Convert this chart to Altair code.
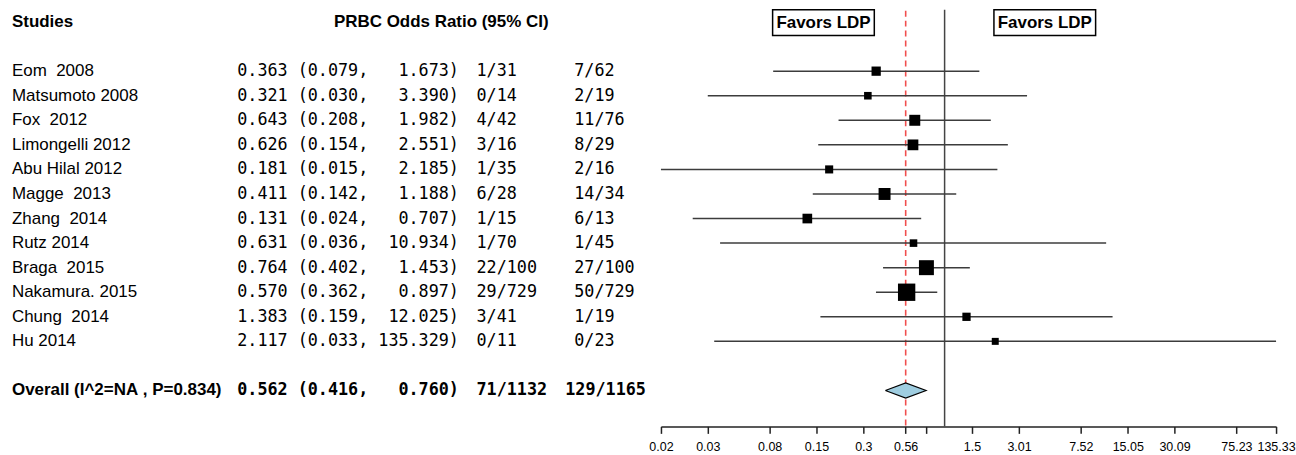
import altair as alt
import pandas as pd

# ---------------- data ----------------
studies = ["Eom  2008", "Matsumoto 2008", "Fox  2012", "Limongelli 2012", "Abu Hilal 2012",
           "Magge  2013", "Zhang  2014", "Rutz 2014", "Braga  2015", "Nakamura. 2015",
           "Chung  2014", "Hu 2014"]
odds_ratio = [0.363, 0.321, 0.643, 0.626, 0.181, 0.411, 0.131, 0.631, 0.764, 0.570, 1.383, 2.117]
ci_low = [0.079, 0.030, 0.208, 0.154, 0.015, 0.142, 0.024, 0.036, 0.402, 0.362, 0.159, 0.033]
ci_high = [1.673, 3.390, 1.982, 2.551, 2.185, 1.188, 0.707, 10.934, 1.453, 0.897, 12.025, 135.329]
events_a = ["1/31", "0/14", "4/42", "3/16", "1/35", "6/28", "1/15", "1/70", "22/100", "29/729", "3/41", "0/11"]
events_b = ["7/62", "2/19", "11/76", "8/29", "2/16", "14/34", "6/13", "1/45", "27/100", "50/729", "1/19", "0/23"]
box_weight = [9.3, 7.6, 11.0, 10.8, 8.1, 12.0, 9.7, 7.6, 15.0, 17.4, 8.3, 7.0]

overall_label = "Overall (I^2=NA , P=0.834)"
overall_or = 0.562
overall_low = 0.416
overall_high = 0.760
overall_events = ["71/1132", "129/1165"]

header_left = "Studies"
header_mid = "PRBC Odds Ratio (95% CI)"
favors_labels = ["Favors LDP", "Favors LDP"]

tick_values = [0.015, 0.03, 0.075, 0.15, 0.3, 0.562, 0.76, 1.5, 3.01, 7.52, 15.05, 30.09, 75.23, 135.33]
tick_labels = ["0.02", "0.03", "0.08", "0.15", "0.3", "0.56", "", "1.5", "3.01", "7.52",
               "15.05", "30.09", "75.23", "135.33"]
x_domain = [0.015, 135.33]

# ---------------- layout constants ----------------
NB = "\u00a0"
def nb(s):
    return s.replace(" ", NB)

H = 422
LEFT_W = 658
RIGHT_W = 617
Y_DOMAIN = [-0.6656, 16.461]
OVERALL_POS = 15
DIAMOND_HALF = 0.31
MONO_SIZE = 16.8

rows = pd.DataFrame({
    "pos": [i + 2 for i in range(len(studies))],
    "study": [nb(s) for s in studies],
    "ci": [nb(f"{o:.3f} ({l:.3f}, {h:7.3f})") for o, l, h in zip(odds_ratio, ci_low, ci_high)],
    "c3": [nb(f"{s:>5}") for s in events_a],
    "c4": [nb(f"{s:>5}") for s in events_b],
    "or": odds_ratio,
    "lo": ci_low,
    "hi": ci_high,
    "w": box_weight,
})

overall = pd.DataFrame({
    "pos": [OVERALL_POS],
    "label": [nb(overall_label)],
    "ci": [nb(f"{overall_or:.3f} ({overall_low:.3f}, {overall_high:7.3f})")],
    "c3": [overall_events[0]],
    "c4": [overall_events[1]],
})

header = pd.DataFrame({"pos": [0]})

# diamond as a horizontal band: at each vertical level a left and right x
diamond_fill = pd.DataFrame({
    "dy": [OVERALL_POS - DIAMOND_HALF, OVERALL_POS, OVERALL_POS + DIAMOND_HALF],
    "dl": [overall_or, overall_low, overall_or],
    "dr": [overall_or, overall_high, overall_or],
})
# outline path
diamond_line = pd.DataFrame({
    "k": [0, 1, 2, 3, 4],
    "lx": [overall_low, overall_or, overall_high, overall_or, overall_low],
    "ly": [OVERALL_POS, OVERALL_POS - DIAMOND_HALF, OVERALL_POS, OVERALL_POS + DIAMOND_HALF,
           OVERALL_POS],
})

yscale = alt.Scale(domain=Y_DOMAIN, reverse=True, nice=False, zero=False)
Y = alt.Y("pos:Q", scale=yscale, axis=None)

SANS = "Liberation Sans"
MONO = "DejaVu Sans Mono"

# ---------------- left: table ----------------
txt = dict(baseline="middle", color="black")
base = alt.Chart(rows)
l_study = base.mark_text(align="left", font=SANS, fontSize=17, **txt).encode(
    x=alt.value(7), y=Y, text="study:N")
l_ci = base.mark_text(align="left", font=MONO, fontSize=MONO_SIZE, **txt).encode(
    x=alt.value(233), y=Y, text="ci:N")
l_c3 = base.mark_text(align="left", font=MONO, fontSize=MONO_SIZE, **txt).encode(
    x=alt.value(473), y=Y, text="c3:N")
l_c4 = base.mark_text(align="left", font=MONO, fontSize=MONO_SIZE, **txt).encode(
    x=alt.value(571), y=Y, text="c4:N")

hb = alt.Chart(header)
h1 = hb.mark_text(align="left", font=SANS, fontSize=17, fontWeight="bold", **txt).encode(
    x=alt.value(7), y=Y, text=alt.value(header_left))
h2 = hb.mark_text(align="left", font=SANS, fontSize=17, fontWeight="bold", **txt).encode(
    x=alt.value(330), y=Y, text=alt.value(header_mid))

ob = alt.Chart(overall)
o1 = ob.mark_text(align="left", font=SANS, fontSize=17, fontWeight="bold", **txt).encode(
    x=alt.value(7), y=Y, text="label:N")
o2 = ob.mark_text(align="left", font=MONO, fontSize=MONO_SIZE, fontWeight="bold", **txt).encode(
    x=alt.value(233), y=Y, text="ci:N")
o3 = ob.mark_text(align="left", font=MONO, fontSize=MONO_SIZE, fontWeight="bold", **txt).encode(
    x=alt.value(473), y=Y, text="c3:N")
o4 = ob.mark_text(align="left", font=MONO, fontSize=MONO_SIZE, fontWeight="bold", **txt).encode(
    x=alt.value(562), y=Y, text="c4:N")

left = alt.layer(l_study, l_ci, l_c3, l_c4, h1, h2, o1, o2, o3, o4).properties(
    width=LEFT_W, height=H)

# ---------------- right: forest ----------------
label_expr = ("[" + ",".join(f"'{t}'" for t in tick_labels) + "][indexof(["
              + ",".join(str(v) for v in tick_values) + "], datum.value)]")
xscale = alt.Scale(type="log", domain=x_domain, nice=False)
xaxis = alt.Axis(values=tick_values, labelExpr=label_expr, title=None, grid=False,
                 tickSize=7, tickWidth=1.5, tickColor="#222", domainColor="#222",
                 domainWidth=1.5, labelFont=SANS, labelFontSize=12.5, labelColor="black",
                 labelPadding=7, labelOverlap=False, labelFlush=False)

ref_df = pd.DataFrame({"v": [1]})
red_line = alt.Chart(ref_df).mark_rule(color="#ee3b3b", opacity=0.9, strokeWidth=1.6,
                                       strokeDash=[6, 4]).encode(
    x=alt.X(datum=overall_or, scale=xscale, axis=xaxis), y=alt.value(5), y2=alt.value(H))
one_line = alt.Chart(ref_df).mark_rule(color="#444", strokeWidth=1.5).encode(
    x=alt.X(datum=1, scale=xscale), y=alt.value(4), y2=alt.value(H))

fb = alt.Chart(rows)
ci_lines = fb.mark_rule(color="#3c3c3c", strokeWidth=1.5).encode(
    x=alt.X("lo:Q", scale=xscale), x2="hi:Q", y=Y)
squares = fb.mark_square(color="black", opacity=1, filled=True).encode(
    x=alt.X("or:Q", scale=xscale), y=Y,
    size=alt.Size("w:Q", scale=alt.Scale(type="pow", exponent=2, domain=[0, 20], range=[0, 400]),
                  legend=None))
diam_fill = alt.Chart(diamond_fill).mark_area(color="#9fcde0", opacity=1,
                                              orient="horizontal").encode(
    y=alt.Y("dy:Q", scale=yscale, axis=None),
    x=alt.X("dl:Q", scale=xscale, stack=None), x2="dr:Q")
diam_line = alt.Chart(diamond_line).mark_line(color="black", strokeWidth=1.2).encode(
    x=alt.X("lx:Q", scale=xscale), y=alt.Y("ly:Q", scale=yscale, axis=None),
    order=alt.Order("k:Q"))

box_centers = [163, 385]
box_layers = []
for cx, lab in zip(box_centers, favors_labels):
    b = alt.Chart(ref_df)
    box_layers.append(b.mark_rect(fill="white", stroke="black", strokeWidth=1.5).encode(
        x=alt.value(cx - 51), x2=alt.value(cx + 51), y=alt.value(4), y2=alt.value(30)))
    box_layers.append(b.mark_text(font=SANS, fontSize=17, fontWeight="bold", color="black",
                                  baseline="middle").encode(
        x=alt.value(cx), y=alt.value(17.5), text=alt.value(lab)))

right = alt.layer(red_line, one_line, ci_lines, squares, diam_fill, diam_line,
                  *box_layers).properties(width=RIGHT_W, height=H)

chart = alt.hconcat(left, right, spacing=0, bounds="flush").properties(
    padding={"left": 5, "top": 5, "right": 0, "bottom": 0}
).configure_view(strokeWidth=0)

chart.save("out.html", embed_options={"renderer": "svg", "actions": False})
